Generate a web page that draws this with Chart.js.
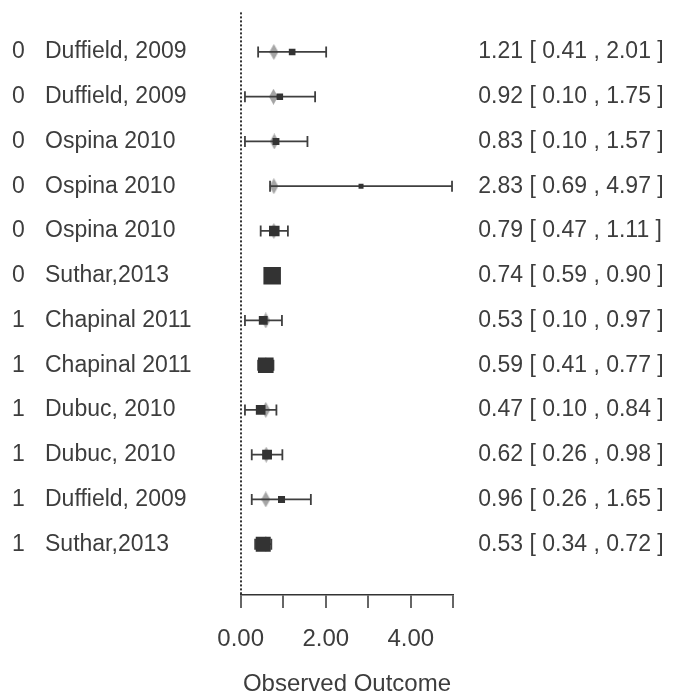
<!DOCTYPE html>
<html>
<head>
<meta charset="utf-8">
<script src="https://cdn.jsdelivr.net/npm/chart.js@4/dist/chart.umd.min.js"></script>
<style>
    html, body { margin: 0; padding: 0; background: #fff; }
    #wrap { width: 688px; height: 696px; }
</style>
</head>
<body>
<div id="wrap"><canvas id="forest" width="688" height="696"></canvas></div>
<script>
// Données
const MODERATOR = [0, 0, 0, 0, 0, 0, 1, 1, 1, 1, 1, 1]
const STUDIES = ['Duffield, 2009', 'Duffield, 2009', 'Ospina 2010', 'Ospina 2010', 'Ospina 2010', 'Suthar,2013',
                 'Chapinal 2011', 'Chapinal 2011', 'Dubuc, 2010', 'Dubuc, 2010', 'Duffield, 2009', 'Suthar,2013']
const ESTIMATE = [1.21, 0.92, 0.83, 2.83, 0.79, 0.74, 0.53, 0.59, 0.47, 0.62, 0.96, 0.53]
const CI_LOW   = [0.41, 0.10, 0.10, 0.69, 0.47, 0.59, 0.10, 0.41, 0.10, 0.26, 0.26, 0.34]
const CI_HIGH  = [2.01, 1.75, 1.57, 4.97, 1.11, 0.90, 0.97, 0.77, 0.84, 0.98, 1.65, 0.72]
// valeurs ajustées (losanges gris)
const FITTED   = [0.78, 0.77, 0.79, 0.78, 0.78, 0.78, 0.59, 0.59, 0.59, 0.60, 0.59, 0.59]
const X_TICKS  = [0, 1, 2, 3, 4, 5]
const X_LABELED = [0, 2, 4]
const REF_VALUE = 0
const X_TITLE = 'Observed Outcome'

const FONT = "'Liberation Sans', Arial, Helvetica, sans-serif"
const TEXT = '#3d3d3d'
const DARK = '#333333'

// -- taille des carrés selon la précision (1/se) --
const prec = ESTIMATE.map((_, i) => 3.92 / (CI_HIGH[i] - CI_LOW[i]))
const pMin = Math.min(...prec)
const pMax = Math.max(...prec)
const squareRadius = prec.map(p => (5 + (p - pMin) / (pMax - pMin) * 12.5) / Math.SQRT2)

// -- losange gris (image) --
const diamond = document.createElement('canvas')
diamond.width = 9
diamond.height = 16
const dctx = diamond.getContext('2d')
dctx.fillStyle = '#a5a5a5'
dctx.beginPath()
dctx.moveTo(4.5, 0)
dctx.lineTo(9, 8)
dctx.lineTo(4.5, 16)
dctx.lineTo(0, 8)
dctx.closePath()
dctx.fill()

const rowIdx = ESTIMATE.map((_, i) => i)

const datasets = []

// carrés
datasets.push({
    label: 'estimate',
    data: ESTIMATE.map((v, i) => ({ x: v, y: i })),
    pointStyle: 'rect',
    pointRadius: squareRadius,
    backgroundColor: DARK,
    pointBorderWidth: 0,
    order: 0
})

// intervalles de confiance
ESTIMATE.forEach((_, i) => {
    datasets.push({
        label: 'ci' + i,
        data: [{ x: CI_LOW[i], y: i }, { x: CI_HIGH[i], y: i }],
        showLine: true,
        borderColor: '#3f3f3f',
        borderWidth: 1.8,
        pointStyle: 'line',
        pointRotation: 90,
        pointRadius: 5.5,
        pointBorderColor: '#3f3f3f',
        pointBorderWidth: 1.8,
        order: 1
    })
})

// valeurs ajustées
datasets.push({
    label: 'fitted',
    data: FITTED.map((v, i) => ({ x: v, y: i })),
    pointStyle: diamond,
    pointRadius: 5,
    order: 2
})

const Y_MIN = -0.885
const Y_MAX = 12.136

function rowTicks(scale) {
    scale.ticks = rowIdx.map(i => ({ value: i }))
}
function noPad(scale) {
    scale.paddingTop = 0
    scale.paddingBottom = 0
}

new Chart(document.getElementById('forest'), {
    type: 'scatter',
    data: { datasets },
    options: {
        responsive: false,
        animation: false,
        devicePixelRatio: 1,
        layout: { padding: { left: 12, top: 11, right: 0, bottom: 0 } },
        plugins: {
            legend: { display: false },
            tooltip: { enabled: false }
        },
        scales: {
            x: {
                type: 'linear',
                min: 0,
                max: 5,
                afterBuildTicks: s => { s.ticks = X_TICKS.map(v => ({ value: v })) },
                afterFit: s => { s.height = 101; s.paddingLeft = 0; s.paddingRight = 0 },
                ticks: {
                    autoSkip: false,
                    maxRotation: 0,
                    padding: 17,
                    color: TEXT,
                    font: { family: FONT, size: 24 },
                    callback: v => X_LABELED.includes(v) ? v.toFixed(2) : ''
                },
                grid: {
                    display: true,
                    drawOnChartArea: true,
                    drawTicks: true,
                    tickLength: 13,
                    // ligne de référence pointillée à x = 0 seulement
                    color: c => (c.tick && c.tick.value === REF_VALUE) ? DARK : 'rgba(0,0,0,0)',
                    lineWidth: 2,
                    tickColor: DARK,
                    tickWidth: 1.5,
                    tickBorderDash: []
                },
                border: { display: true, color: DARK, width: 1.5, dash: [2, 2] },
                title: {
                    display: true,
                    text: X_TITLE,
                    color: TEXT,
                    font: { family: FONT, size: 24, lineHeight: 1 },
                    padding: { top: 0, bottom: 0 }
                }
            },
            y: {
                type: 'linear',
                position: 'left',
                reverse: true,
                min: Y_MIN,
                max: Y_MAX,
                weight: 0,
                afterBuildTicks: rowTicks,
                afterFit: s => { s.width = 195.7; noPad(s) },
                ticks: {
                    autoSkip: false,
                    crossAlign: 'far',
                    padding: 0,
                    color: TEXT,
                    font: { family: FONT, size: 23 },
                    callback: (v, i) => STUDIES[i]
                },
                grid: { display: false, drawTicks: false },
                border: { display: false }
            },
            mod: {
                type: 'linear',
                position: 'left',
                reverse: true,
                min: Y_MIN,
                max: Y_MAX,
                weight: 1,
                afterBuildTicks: rowTicks,
                afterFit: s => { s.width = 33; noPad(s) },
                ticks: {
                    autoSkip: false,
                    crossAlign: 'far',
                    padding: 0,
                    color: TEXT,
                    font: { family: FONT, size: 23 },
                    callback: (v, i) => String(MODERATOR[i])
                },
                grid: { display: false, drawTicks: false },
                border: { display: false }
            },
            ci: {
                type: 'linear',
                position: 'right',
                reverse: true,
                min: Y_MIN,
                max: Y_MAX,
                afterBuildTicks: rowTicks,
                afterFit: s => { s.width = 234.7; noPad(s) },
                ticks: {
                    autoSkip: false,
                    padding: 25,
                    color: TEXT,
                    font: { family: FONT, size: 23 },
                    callback: (v, i) => ESTIMATE[i].toFixed(2) + ' [ ' + CI_LOW[i].toFixed(2) + ' , ' + CI_HIGH[i].toFixed(2) + ' ]'
                },
                grid: { display: false, drawTicks: false },
                border: { display: false }
            }
        }
    }
})
</script>
</body>
</html>
